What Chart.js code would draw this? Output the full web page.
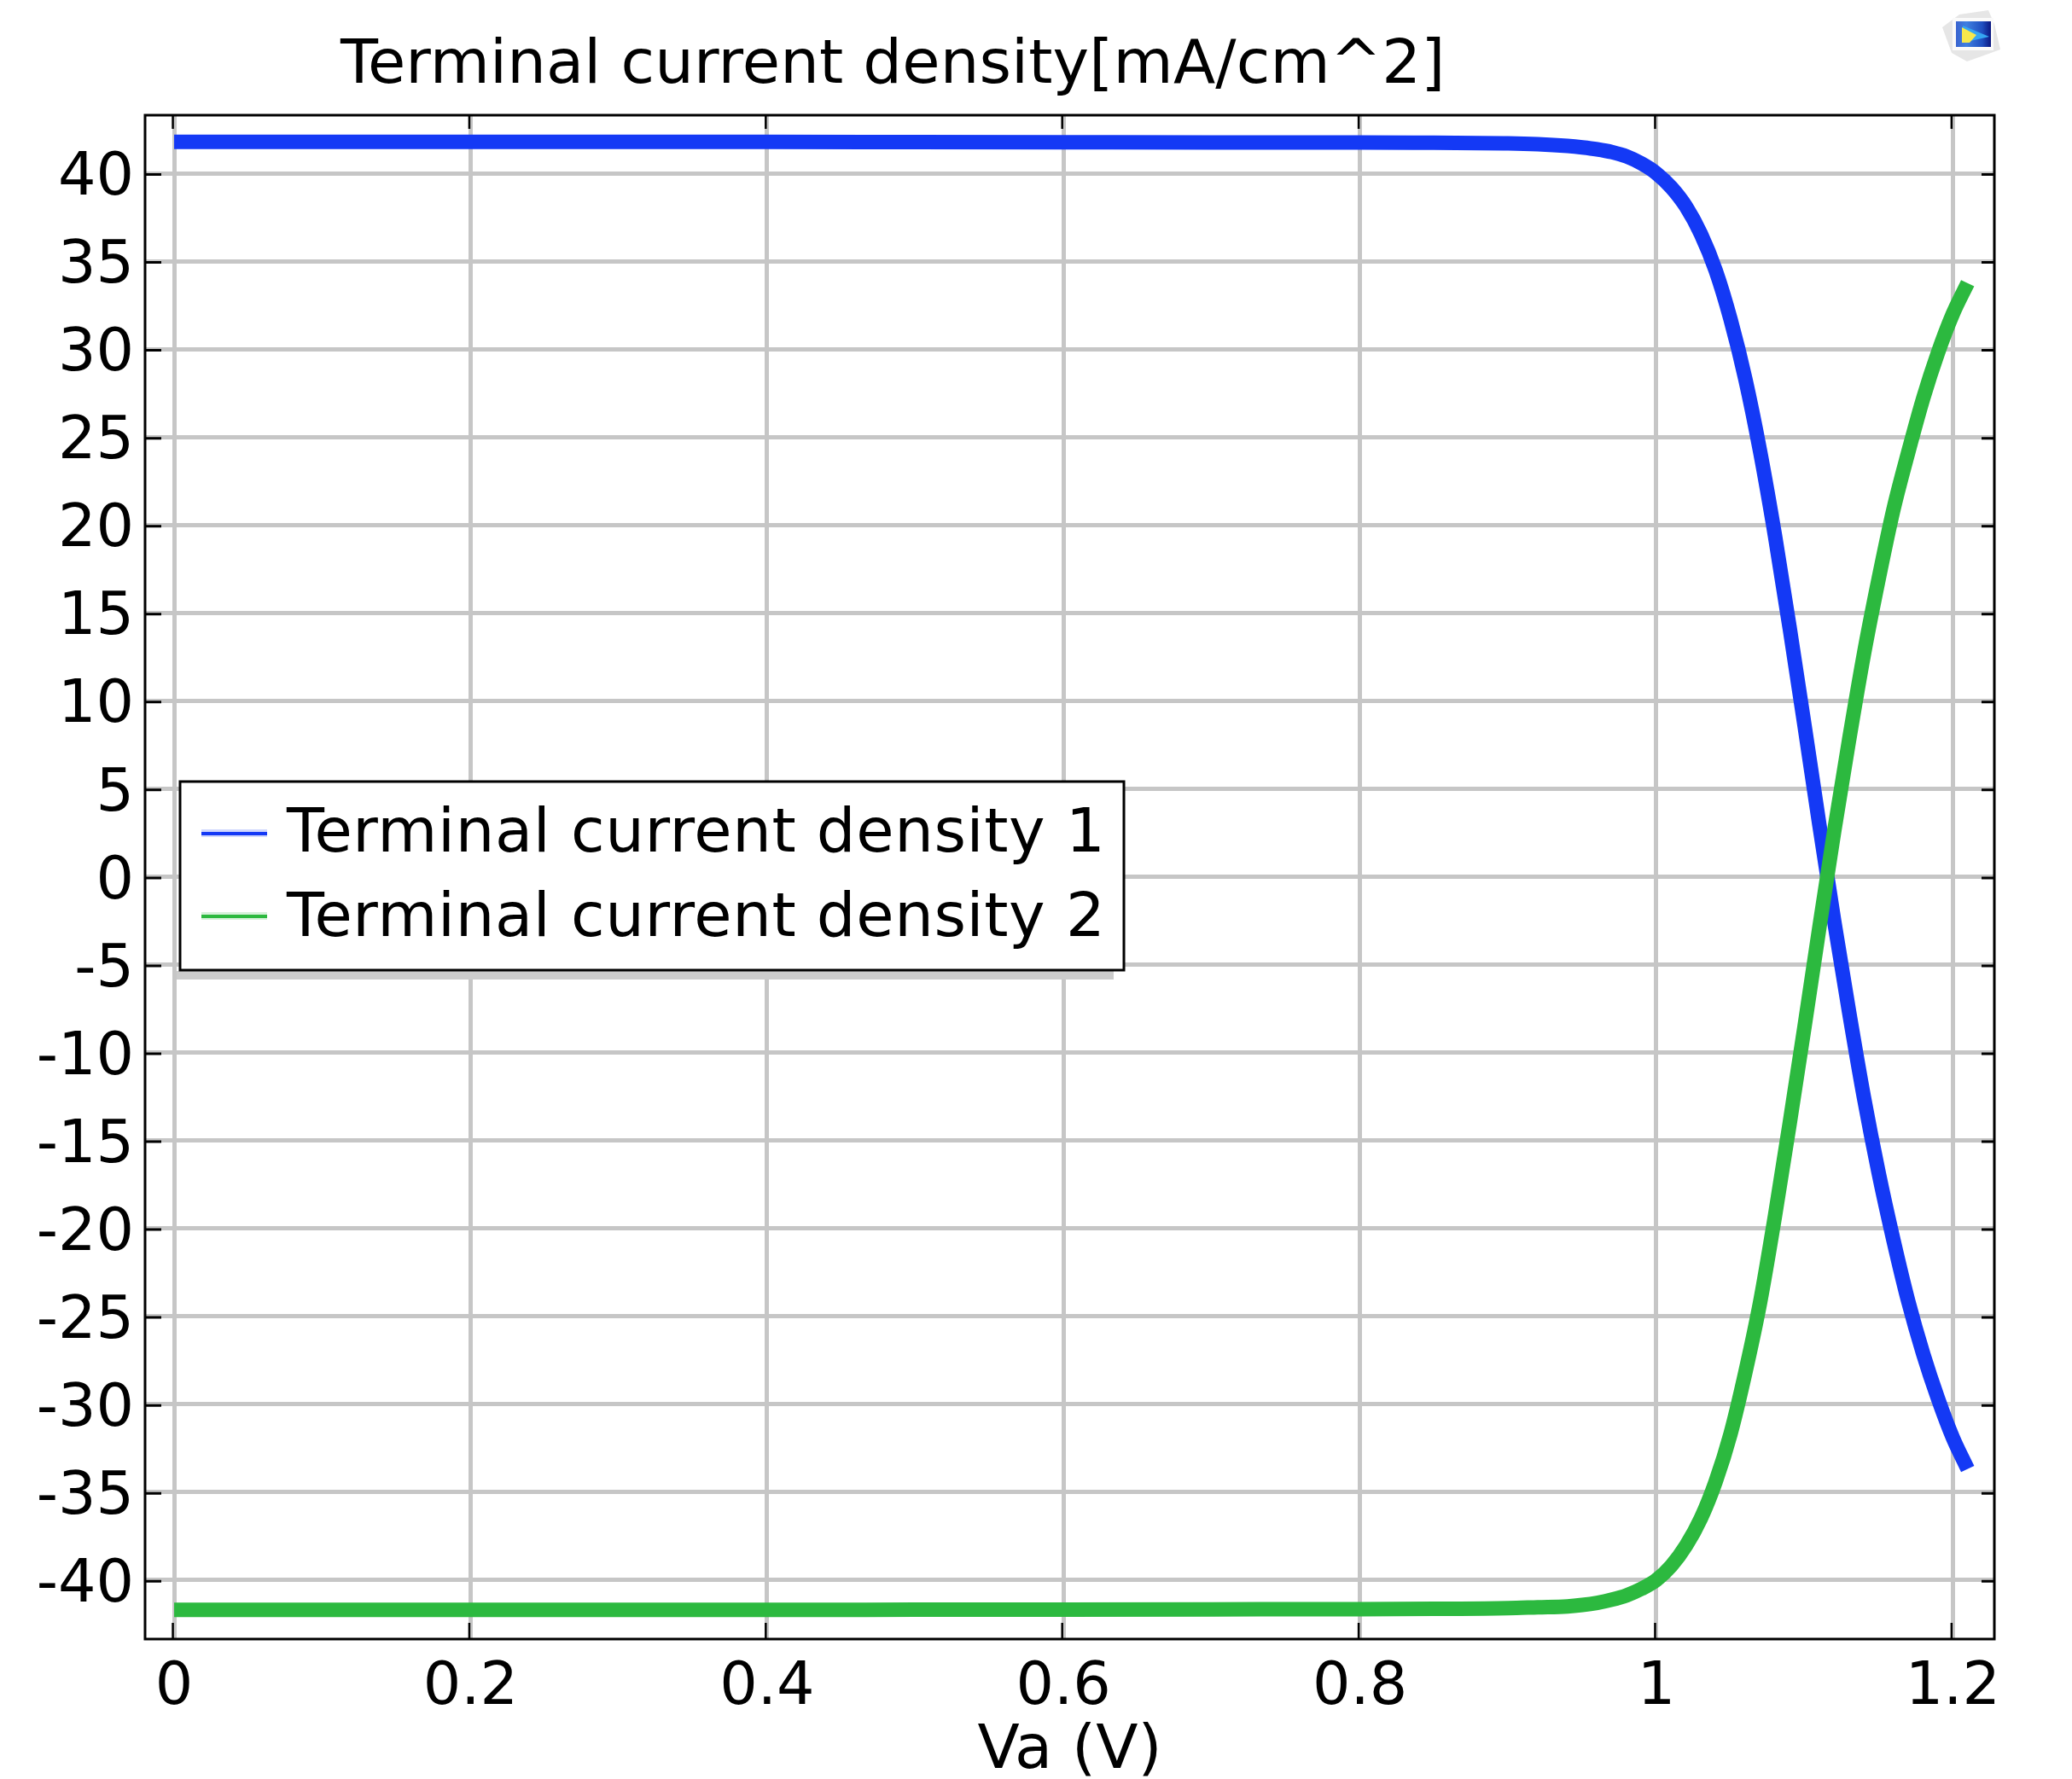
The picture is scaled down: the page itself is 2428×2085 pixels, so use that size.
<!DOCTYPE html>
<html>
<head>
<meta charset="utf-8">
<title>Terminal current density</title>
<script src="https://cdn.jsdelivr.net/npm/chart.js@4"></script>
<style>
    html, body { margin: 0; padding: 0; background: #fff; }
    canvas { display: block; }
</style>
</head>
<body>
<canvas id="chart" width="2428" height="2085"></canvas>
<script>
const chartTitle = 'Terminal current density[mA/cm^2]';
const xTitle = 'Va (V)';
const seriesNames = ['Terminal current density 1', 'Terminal current density 2'];
const xTicks = [0, 0.2, 0.4, 0.6, 0.8, 1, 1.2];
const yTicks = [40, 35, 30, 25, 20, 15, 10, 5, 0, -5, -10, -15, -20, -25, -30, -35, -40];

const va = [0, 0.1, 0.2, 0.3, 0.4, 0.5, 0.6, 0.7, 0.8, 0.85, 0.9, 0.92, 0.94, 0.95, 0.96, 0.97, 0.98, 0.99,
    1, 1.01, 1.02, 1.03, 1.04, 1.05, 1.06, 1.07, 1.08, 1.09, 1.1, 1.11, 1.12, 1.13, 1.14, 1.15, 1.16, 1.17, 1.18, 1.19, 1.2, 1.21];
const density1 = [41.78, 41.78, 41.78, 41.78, 41.78, 41.77, 41.76, 41.75, 41.75, 41.73, 41.7, 41.65, 41.55, 41.47, 41.36, 41.2, 40.95, 40.55,
    40, 39.2, 38.1, 36.55, 34.47, 31.7, 28.3, 24.17, 19.39, 14.1, 8.56, 2.92, -2.55, -7.69, -12.55, -16.87, -20.7, -24.18, -27.14, -29.69, -31.91, -33.69];
const density2 = [-41.7, -41.7, -41.7, -41.7, -41.7, -41.69, -41.68, -41.67, -41.66, -41.64, -41.6, -41.55, -41.5, -41.42, -41.3, -41.12, -40.87, -40.5,
    -40, -39.2, -38.05, -36.5, -34.4, -31.7, -28.2, -24.2, -19.3, -14, -8.5, -2.87, 2.6, 7.77, 12.65, 16.95, 20.9, 24.16, 27.2, 29.8, 32, 33.75];

const fontFamily = '"DejaVu Sans"';
const blue = '#1439f5';
const green = '#2cb93f';
const gridColor = '#c6c6c6';

function drawLogo(ctx) {
    // blotchy grey halo
    ctx.fillStyle = '#e6e6e6';
    ctx.beginPath();
    ctx.moveTo(2276, 32);
    ctx.lineTo(2296, 17);
    ctx.lineTo(2330, 12);
    ctx.lineTo(2337, 28);
    ctx.lineTo(2344, 58);
    ctx.lineTo(2322, 66);
    ctx.lineTo(2305, 72);
    ctx.lineTo(2287, 62);
    ctx.closePath();
    ctx.fill();
    ctx.fillStyle = '#fafafa';
    ctx.fillRect(2288, 21, 48, 38);
    // screen
    const g = ctx.createLinearGradient(2292, 0, 2333, 0);
    g.addColorStop(0, '#3a64d0');
    g.addColorStop(0.3, '#3f7fe0');
    g.addColorStop(0.75, '#1f4fc0');
    g.addColorStop(1, '#0a1680');
    ctx.fillStyle = g;
    ctx.fillRect(2292, 25, 41, 30);
    ctx.fillStyle = '#35a6f2';
    ctx.beginPath();
    ctx.moveTo(2300, 30);
    ctx.lineTo(2331, 43);
    ctx.lineTo(2300, 50);
    ctx.closePath();
    ctx.fill();
    ctx.fillStyle = '#f6e84c';
    ctx.beginPath();
    ctx.moveTo(2299, 32);
    ctx.lineTo(2316, 41);
    ctx.lineTo(2308, 50);
    ctx.lineTo(2299, 50);
    ctx.closePath();
    ctx.fill();
}

// frame, inner ticks, title, legend box and the little logo
const decorations = {
    id: 'decorations',
    afterDatasetsDraw(chart) {
        const { ctx, chartArea: a, scales } = chart;
        ctx.save();

        // inner ticks on all four sides
        ctx.strokeStyle = '#000';
        ctx.lineWidth = 2.5;
        ctx.beginPath();
        scales.x.ticks.forEach(t => {
            const px = scales.x.getPixelForValue(t.value) - 1.5;
            ctx.moveTo(px, a.top); ctx.lineTo(px, a.top + 16);
            ctx.moveTo(px, a.bottom); ctx.lineTo(px, a.bottom - 19);
        });
        ctx.stroke();
        ctx.lineWidth = 3;
        ctx.beginPath();
        scales.y.ticks.forEach(t => {
            const py = scales.y.getPixelForValue(t.value) + 1.5;
            ctx.moveTo(a.left, py); ctx.lineTo(a.left + 19, py);
            ctx.moveTo(a.right, py); ctx.lineTo(a.right - 15, py);
        });
        ctx.stroke();
        ctx.lineWidth = 3;
        ctx.strokeRect(a.left, a.top, a.right - a.left, a.bottom - a.top);

        // title sits left of centre, so it is not the plugin title
        ctx.fillStyle = '#000';
        ctx.font = '72px ' + fontFamily;
        ctx.textAlign = 'left';
        ctx.textBaseline = 'alphabetic';
        ctx.letterSpacing = '0.15px';
        ctx.fillText(chartTitle, 399, 97);

        // legend
        ctx.fillStyle = '#cccccc';
        ctx.fillRect(207, 1138, 1098, 10);
        ctx.fillStyle = '#fff';
        ctx.fillRect(211, 916, 1106, 221);
        ctx.lineWidth = 3;
        ctx.strokeRect(211, 916, 1106, 221);
        ctx.letterSpacing = '0.65px';
        const rows = [[977, 998], [1074, 1097]];
        chart.data.datasets.forEach((ds, i) => {
            const [lineY, textY] = rows[i];
            ctx.globalAlpha = 0.2;
            ctx.fillStyle = ds.borderColor;
            ctx.fillRect(236, lineY - 5, 77, 9);
            ctx.globalAlpha = 1;
            ctx.fillRect(236, lineY - 2, 77, 4);
            ctx.fillStyle = '#000';
            ctx.fillText(ds.label, 336, textY);
        });
        ctx.letterSpacing = '0px';

        drawLogo(ctx);
        ctx.restore();
    }
};

new Chart(document.getElementById('chart').getContext('2d'), {
    type: 'line',
    data: {
        labels: va,
        datasets: [{
            label: seriesNames[0],
            data: va.map((v, i) => ({ x: v, y: density1[i] })),
            borderColor: blue,
            order: 2
        }, {
            label: seriesNames[1],
            data: va.map((v, i) => ({ x: v, y: density2[i] })),
            borderColor: green,
            order: 1
        }]
    },
    options: {
        responsive: false,
        animation: false,
        layout: { padding: { left: 0, top: 135, right: 91, bottom: 0 } },
        elements: {
            line: { borderWidth: 17, cubicInterpolationMode: 'monotone', borderCapStyle: 'butt', borderJoinStyle: 'round', fill: false },
            point: { radius: 0 }
        },
        plugins: {
            legend: { display: false },
            title: { display: false },
            tooltip: { enabled: false }
        },
        scales: {
            x: {
                type: 'linear',
                min: -0.0196,
                max: 1.228,
                afterBuildTicks: scale => { scale.ticks = xTicks.map(v => ({ value: v })); },
                afterFit: scale => { scale.height = 164; },
                grid: { color: gridColor, lineWidth: 5, drawTicks: false },
                border: { display: false },
                ticks: {
                    color: '#000',
                    padding: 16,
                    maxRotation: 0,
                    autoSkip: false,
                    font: { family: fontFamily, size: 70 },
                    callback: v => String(v)
                },
                title: {
                    display: true,
                    text: xTitle,
                    color: '#000',
                    font: { family: fontFamily, size: 72, lineHeight: 1 },
                    padding: { top: 0, bottom: -4 }
                }
            },
            y: {
                type: 'linear',
                min: -43.36,
                max: 43.3,
                afterBuildTicks: scale => { scale.ticks = yTicks.map(v => ({ value: v })); },
                afterFit: scale => { scale.width = 170; },
                grid: { color: gridColor, lineWidth: 5, drawTicks: false },
                border: { display: false },
                ticks: {
                    color: '#000',
                    padding: 13,
                    labelOffset: 7,
                    autoSkip: false,
                    font: { family: fontFamily, size: 70 },
                    callback: v => String(v)
                }
            }
        }
    },
    plugins: [decorations]
});
</script>
</body>
</html>
